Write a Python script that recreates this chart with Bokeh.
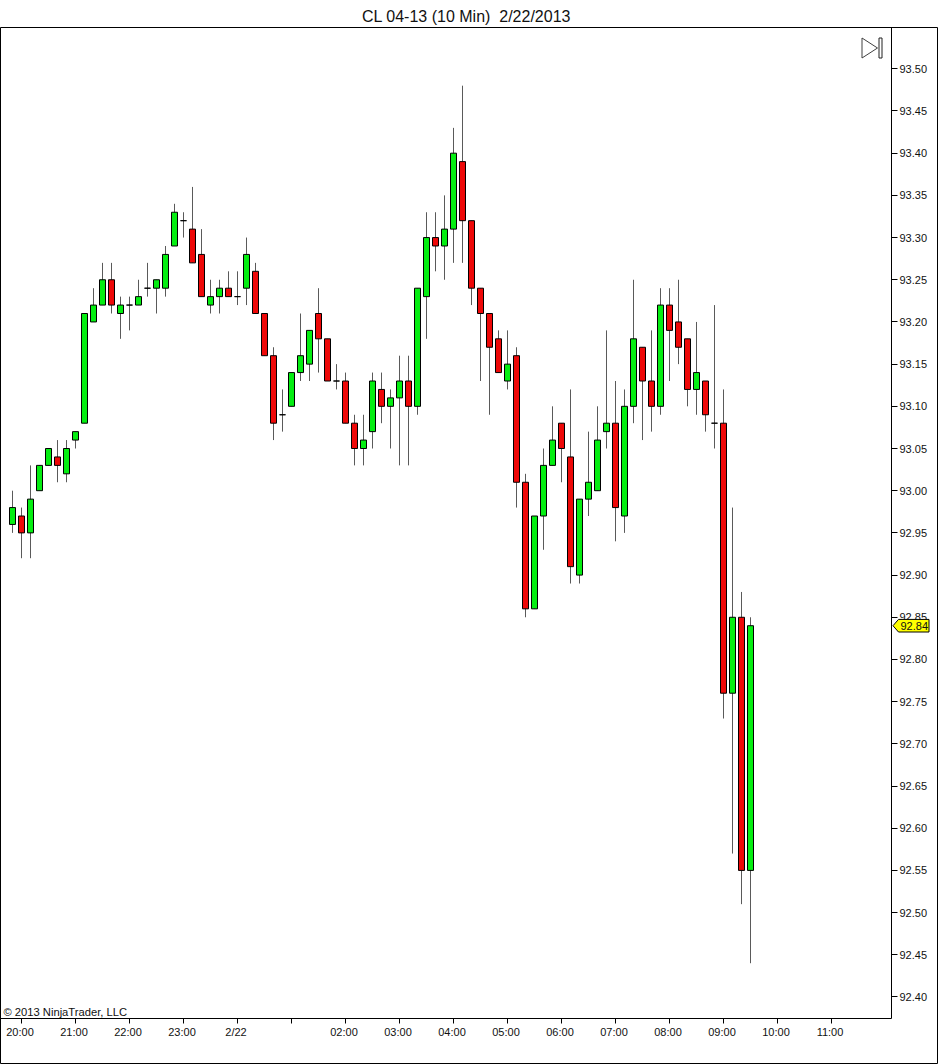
from bokeh.plotting import figure
from bokeh.embed import file_html
from bokeh.resources import INLINE
from bokeh.models import (ColumnDataSource, FixedTicker, LinearAxis, Range1d,
                          NumeralTickFormatter, Title)
from bokeh.core.properties import value

# ---- data: 10 minute bars ----
opens = [92.96,92.97,92.95,93.00,93.03,93.04,93.02,93.06,93.08,93.20,93.22,93.25,93.21,93.22,93.22,93.24,93.24,93.24,93.29,93.32,93.31,93.28,93.22,93.23,93.24,93.23,93.24,93.26,93.21,93.16,93.09,93.10,
         93.14,93.15,93.21,93.18,93.13,93.13,93.08,93.05,93.07,93.12,93.10,93.11,93.13,93.10,93.23,93.30,93.29,93.31,93.39,93.32,93.24,93.21,93.18,93.13,93.16,
         93.01,92.86,92.97,93.03,93.08,93.04,92.90,92.99,93.00,93.07,93.08,92.97,93.10,93.17,93.13,93.10,93.22,93.20,93.18,93.12,93.13,93.08,93.08,92.76,92.85,92.55]
highs = [93.00,92.98,93.03,93.03,93.05,93.06,93.06,93.07,93.21,93.24,93.27,93.27,93.23,93.23,93.25,93.27,93.25,93.29,93.34,93.33,93.36,93.31,93.25,93.25,93.26,93.26,93.30,93.27,93.21,93.17,93.12,93.14,
         93.21,93.19,93.24,93.18,93.15,93.14,93.09,93.09,93.14,93.14,93.12,93.16,93.16,93.24,93.33,93.33,93.35,93.43,93.48,93.32,93.24,93.21,93.19,93.19,93.17,
         93.02,92.97,93.05,93.10,93.08,93.12,92.99,93.07,93.10,93.19,93.13,93.12,93.25,93.17,93.19,93.24,93.24,93.25,93.18,93.20,93.13,93.22,93.12,92.98,92.88,92.85]
lows = [92.95,92.92,92.92,93.00,93.03,93.01,93.01,93.05,93.08,93.20,93.22,93.21,93.18,93.19,93.22,93.23,93.21,93.23,93.29,93.30,93.27,93.23,93.21,93.21,93.23,93.22,93.22,93.21,93.16,93.06,93.07,93.10,
        93.13,93.13,93.14,93.13,93.12,93.08,93.03,93.03,93.05,93.08,93.05,93.03,93.03,93.09,93.18,93.26,93.25,93.27,93.27,93.22,93.13,93.09,93.14,93.12,92.98,
        92.85,92.86,92.93,93.03,93.01,92.89,92.89,92.97,93.00,93.05,92.94,92.95,93.08,93.06,93.07,93.09,93.13,93.15,93.10,93.09,93.07,93.05,92.73,92.57,92.51,92.44]
closes = [92.98,92.95,92.99,93.03,93.05,93.03,93.05,93.07,93.21,93.22,93.25,93.22,93.22,93.22,93.23,93.24,93.25,93.28,93.33,93.32,93.27,93.23,93.23,93.24,93.23,93.23,93.28,93.21,93.16,93.08,93.09,93.14,
          93.16,93.19,93.18,93.13,93.13,93.08,93.05,93.06,93.13,93.10,93.11,93.13,93.10,93.24,93.30,93.29,93.31,93.40,93.32,93.24,93.21,93.17,93.14,93.15,93.01,
          92.86,92.97,93.03,93.06,93.05,92.91,92.99,93.01,93.06,93.08,92.98,93.10,93.18,93.13,93.10,93.22,93.19,93.17,93.12,93.14,93.09,93.08,92.76,92.85,92.55,92.84]
x_tick_bars = [1,7,13,19,25,31,37,43,49,55,61,67,73,79,85,91]
x_tick_labels = ["20:00","21:00","22:00","23:00","2/22","","02:00","03:00","04:00","05:00","06:00","07:00","08:00","09:00","10:00","11:00"]
y_ticks = [92.40,92.45,92.50,92.55,92.60,92.65,92.70,92.75,92.80,92.85,92.90,92.95,93.00,93.05,93.10,93.15,93.20,93.25,93.30,93.35,93.40,93.45,93.50]
title_text = "CL 04-13 (10 Min)\u00a0 2/22/2013"
copyright_text = "© 2013 NinjaTrader, LLC"
last_price = closes[-1]

GREEN = "#05ee12"
RED = "#ee0808"
FONT = "Liberation Sans"
INK = "#111111"
W, H = 938, 1064
L, R, T, B = 0, 937, 27, 1063          # outer frame in pixels
AX_R, AX_B = 891.0, 1018.0             # where the price and time axes sit
BAR0, BAR_STEP = 12.0, 9.0
PX_PER_UNIT = 843.8
PRICE_REF, PRICE_REF_Y = 93.50, 68.3

def xd(px):
    return (px - BAR0) / BAR_STEP
def yd(py):
    return PRICE_REF - (py - PRICE_REF_Y) / PX_PER_UNIT

n = len(closes)
bars = list(range(n))
src = ColumnDataSource(dict(
    x=bars, high=highs, low=lows,
    top=[max(o, c) for o, c in zip(opens, closes)],
    bottom=[min(o, c) for o, c in zip(opens, closes)],
    color=[GREEN if c >= o else RED for o, c in zip(opens, closes)],
))

p = figure(width=W, height=H, output_backend="svg", toolbar_location=None,
           x_range=Range1d(xd(L), xd(R)), y_range=Range1d(yd(B), yd(T)),
           x_axis_type=None, y_axis_type=None,
           min_border_left=L, min_border_right=W - R,
           min_border_top=T, min_border_bottom=H - B)
p.styles = {"position": "absolute", "left": "0px", "top": "0px"}
p.background_fill_color = "white"
p.border_fill_color = "white"
p.outline_line_color = "black"
p.outline_line_width = 1
p.outline_line_alpha = 1

p.title = Title(text=title_text, align="left", offset=361.5, text_font=FONT,
                text_font_size="16px", text_font_style="normal", text_color=INK,
                vertical_align="top", standoff=2)

p.segment("x", "low", "x", "high", source=src, line_color="#5a5a5a", line_width=1)
p.vbar(x="x", top="top", bottom="bottom", width=6 / BAR_STEP, source=src,
       fill_color="color", line_color="black", line_width=1, line_join="miter")

# time axis: ticks on one axis, labels on a second one nudged left as in the original
xa = LinearAxis(fixed_location=yd(AX_B), bounds=(xd(L), xd(AX_R)))
xa.ticker = FixedTicker(ticks=x_tick_bars)
xa.major_label_overrides = {t: "" for t in x_tick_bars}
xa.major_tick_in = 0
xa.major_tick_out = 5
xa.minor_tick_line_color = None
xa.axis_line_color = "black"
xa.major_tick_line_color = "black"
p.add_layout(xa, "below")

shift = 1.5 / BAR_STEP
label_ticks = [t - shift for t, s in zip(x_tick_bars, x_tick_labels) if s]
xl = LinearAxis(fixed_location=yd(AX_B), bounds=(xd(L), xd(AX_R)))
xl.ticker = FixedTicker(ticks=label_ticks)
xl.major_label_overrides = {t: s for t, s in zip(label_ticks, [s for s in x_tick_labels if s])}
xl.major_tick_in = 0
xl.major_tick_out = 5
xl.minor_tick_line_color = None
xl.axis_line_color = None
xl.major_tick_line_color = None
xl.major_label_standoff = 2
xl.major_label_text_font = FONT
xl.major_label_text_font_size = "11px"
xl.major_label_text_color = INK
p.add_layout(xl, "below")

# price axis
ya = LinearAxis(fixed_location=xd(AX_R), bounds=(yd(AX_B), yd(T)))
ya.ticker = FixedTicker(ticks=y_ticks)
ya.formatter = NumeralTickFormatter(format="0.00")
ya.major_tick_in = 0
ya.major_tick_out = 6
ya.minor_tick_line_color = None
ya.axis_line_color = "black"
ya.major_tick_line_color = "black"
ya.major_label_standoff = 2
ya.major_label_text_font = FONT
ya.major_label_text_font_size = "11px"
ya.major_label_text_color = INK
p.add_layout(ya, "right")

# last price tag
half = 6.3 / PX_PER_UNIT
tag_xs = [xd(892.5), xd(898), xd(928.5), xd(928.5), xd(898)]
tag_ys = [last_price, last_price + half, last_price + half, last_price - half, last_price - half]
p.patch(tag_xs, tag_ys, fill_color="#ffff00", line_color="black", line_width=1,
        line_join="miter", level="overlay")
p.text(x=[xd(900)], y=[last_price], text=[f"{last_price:.2f}"], text_font=value(FONT),
       text_font_size="11px", text_baseline="middle", text_color=INK, level="overlay")

# copyright
p.text(x=[xd(3)], y=[yd(1011.5)], text=[copyright_text], text_font=value(FONT),
       text_font_size="11.2px", text_baseline="middle", text_color=INK)

# end-of-chart icon
p.patch([xd(861.5), xd(877), xd(861.5)], [yd(37.5), yd(47.5), yd(57.5)],
        fill_alpha=0, line_color="#404040", line_width=1, line_join="miter")
p.quad(left=[xd(878.5)], right=[xd(881.5)], top=[yd(37.5)], bottom=[yd(57.5)],
       fill_alpha=0, line_color="#202020", line_width=1, line_join="miter")

open("out.html", "w").write(file_html(p, INLINE))
